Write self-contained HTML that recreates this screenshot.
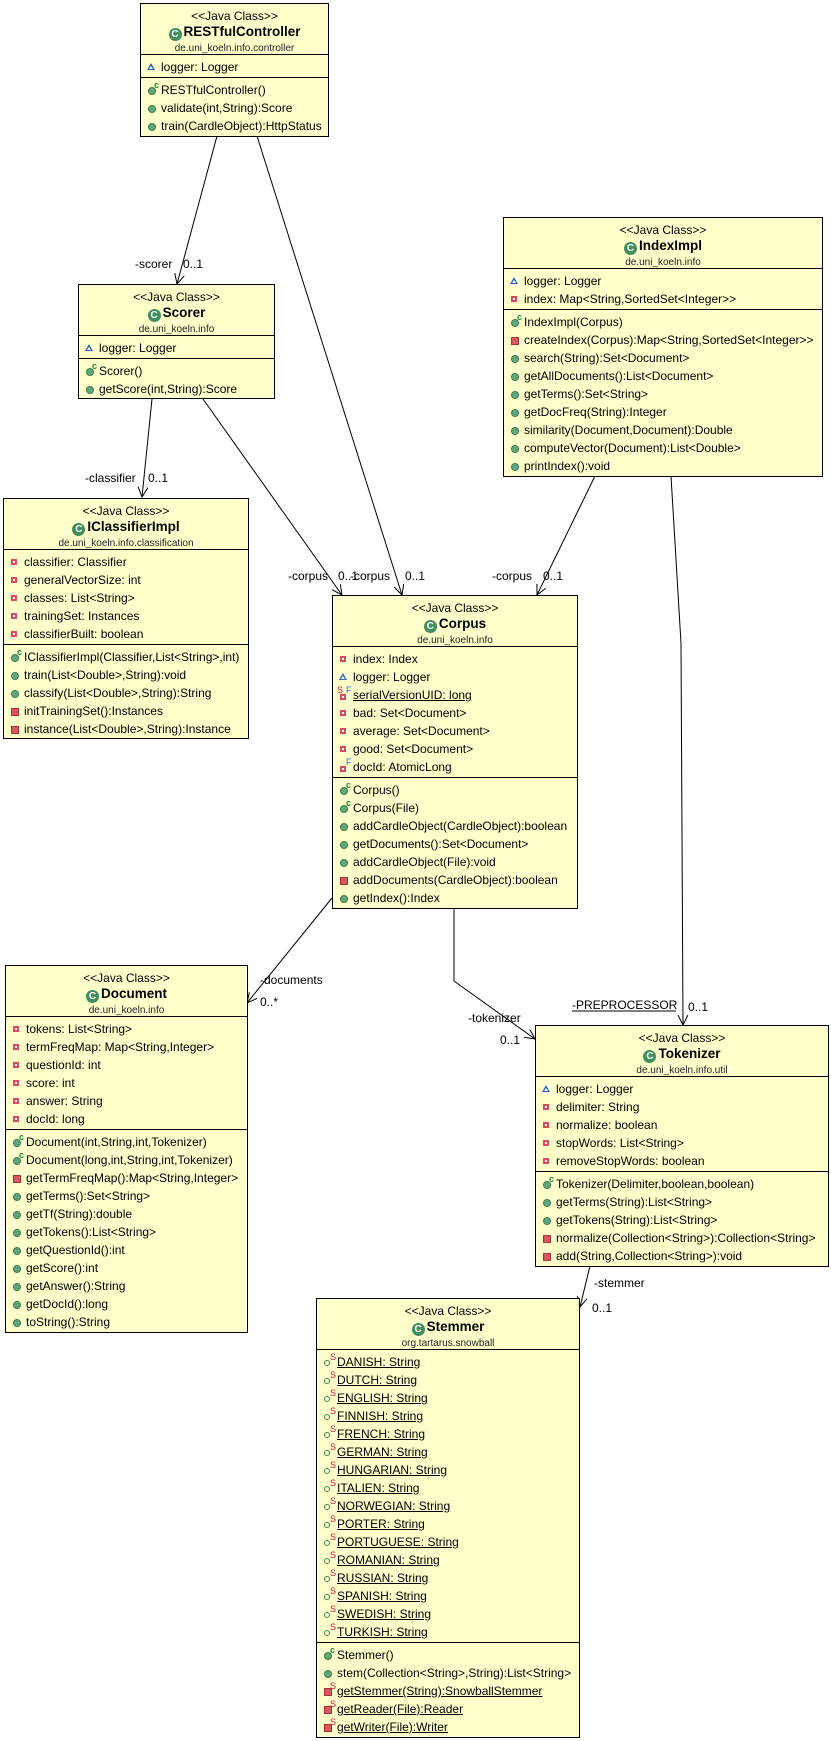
<!DOCTYPE html>
<html><head><meta charset="utf-8"><style>
body{margin:0;width:831px;height:1741px;background:#fff;position:relative;overflow:hidden;font-family:"Liberation Sans",Arial,sans-serif}
.box{position:absolute;background:#ffffcc;border:1px solid #000;box-sizing:border-box;font-size:12px;color:#000;overflow:hidden}
.hd{height:51px;border-bottom:1px solid #000;box-sizing:border-box;position:relative;text-align:center}
.hd div{position:absolute;left:0;right:0;white-space:nowrap}
.st{top:4px;line-height:16px;font-size:12px}
.nm{top:19px;line-height:18px;height:18px;font-size:13.5px;font-weight:bold}
.pk{top:38px;line-height:14px;font-size:10px;color:#222}
.G{display:inline-block;width:13px;height:13px;border-radius:50%;background:#3f8f5c;color:#fff;font-size:10px;line-height:13px;text-align:center;vertical-align:-1px;margin-right:2px;font-weight:bold}
.cp{padding:3px 0 1px 0;border-bottom:1px solid #000}
.cp.last{border-bottom:none}
.r{height:18px;line-height:18px;padding-left:20px;position:relative;white-space:nowrap}
.u{text-decoration:underline}
.ic{position:absolute;left:7px;top:5px;box-sizing:border-box}
.pub{width:8px;height:8px;border-radius:50%;background:#5fa878;border:1px solid #3d7d55;top:6px}
.pa{width:6px;height:6px;border:2px solid #d84a60;background:#fff;top:6px}
.pm{width:8px;height:8px;background:#d8575e;border:1px solid #a8323a;top:6px}
.pk2{left:6px;top:5px;width:0;height:0}
.pk2::before{content:"";position:absolute;left:0;top:0;border-left:4px solid transparent;border-right:4px solid transparent;border-bottom:7px solid #2a66c4}
.pk2::after{content:"";position:absolute;left:2px;top:3px;border-left:2px solid transparent;border-right:2px solid transparent;border-bottom:3px solid #fff}
.ring{width:6px;height:6px;border-radius:50%;border:1.5px solid #3d8d5a;top:7px}
.sup{position:absolute;font-size:9px;line-height:9px;top:0px;font-weight:bold}
.c{color:#1a8a3a;left:13px}
.s{color:#d0103a;left:13px;font-weight:normal}
.f{color:#2a66c4;left:13px;font-weight:normal}
svg{position:absolute;left:0;top:0}
svg text{font-family:"Liberation Sans",Arial,sans-serif;font-size:12px;fill:#000}
</style></head><body>

<svg width="831" height="1741">
<defs><marker id="a" markerWidth="12" markerHeight="12" refX="10" refY="5" orient="auto" markerUnits="userSpaceOnUse"><path d="M0,0 L10,5 L0,10" fill="none" stroke="#000" stroke-width="1"/></marker></defs>
<g stroke="#000" stroke-width="1" fill="none">
<line x1="217" y1="136" x2="177" y2="284" marker-end="url(#a)"/>
<line x1="257" y1="136" x2="402" y2="595" marker-end="url(#a)"/>
<line x1="152" y1="399" x2="142" y2="497" marker-end="url(#a)"/>
<line x1="203" y1="399" x2="342" y2="595" marker-end="url(#a)"/>
<line x1="595" y1="476" x2="537" y2="595" marker-end="url(#a)"/>
<polyline points="671,476 681,643 683,1025" marker-end="url(#a)"/>
<line x1="332" y1="898" x2="247" y2="1003" marker-end="url(#a)"/>
<polyline points="454,908 454,981 535,1039" marker-end="url(#a)"/>
<line x1="590" y1="1266" x2="580" y2="1307" marker-end="url(#a)"/>
</g>
<text x="135" y="268">-scorer</text><text x="183" y="268">0..1</text>
<text x="85" y="482">-classifier</text><text x="148" y="482">0..1</text>
<text x="288" y="580">-corpus</text><text x="338" y="580">0..1</text>
<text x="350" y="580">-corpus</text><text x="405" y="580">0..1</text>
<text x="492" y="580">-corpus</text><text x="543" y="580">0..1</text>
<text x="260" y="984">-documents</text><text x="260" y="1006">0..*</text>
<text x="468" y="1022">-tokenizer</text><text x="500" y="1044">0..1</text>
<text x="572" y="1009">-PREPROCESSOR</text>
<line x1="572" y1="1011" x2="676" y2="1011" stroke="#000"/>
<text x="688" y="1011">0..1</text>
<text x="594" y="1287">-stemmer</text><text x="592" y="1312">0..1</text>
</svg>

<!-- RESTfulController -->
<div class="box" style="left:140px;top:3px;width:189px;height:134px">
<div class="hd"><div class="st">&lt;&lt;Java Class&gt;&gt;</div><div class="nm"><span class="G">C</span>RESTfulController</div><div class="pk">de.uni_koeln.info.controller</div></div>
<div class="cp"><div class="r"><span class="ic pk2"></span>logger: Logger</div></div>
<div class="cp last"><div class="r"><span class="ic pub"></span><span class="sup c">c</span>RESTfulController()</div><div class="r"><span class="ic pub"></span>validate(int,String):Score</div><div class="r"><span class="ic pub"></span>train(CardleObject):HttpStatus</div></div>
</div>

<!-- Scorer -->
<div class="box" style="left:78px;top:284px;width:197px;height:115px">
<div class="hd"><div class="st">&lt;&lt;Java Class&gt;&gt;</div><div class="nm"><span class="G">C</span>Scorer</div><div class="pk">de.uni_koeln.info</div></div>
<div class="cp"><div class="r"><span class="ic pk2"></span>logger: Logger</div></div>
<div class="cp last"><div class="r"><span class="ic pub"></span><span class="sup c">c</span>Scorer()</div><div class="r"><span class="ic pub"></span>getScore(int,String):Score</div></div>
</div>

<!-- IClassifierImpl -->
<div class="box" style="left:3px;top:498px;width:246px;height:241px">
<div class="hd"><div class="st">&lt;&lt;Java Class&gt;&gt;</div><div class="nm"><span class="G">C</span>IClassifierImpl</div><div class="pk">de.uni_koeln.info.classification</div></div>
<div class="cp"><div class="r"><span class="ic pa"></span>classifier: Classifier</div><div class="r"><span class="ic pa"></span>generalVectorSize: int</div><div class="r"><span class="ic pa"></span>classes: List&lt;String&gt;</div><div class="r"><span class="ic pa"></span>trainingSet: Instances</div><div class="r"><span class="ic pa"></span>classifierBuilt: boolean</div></div>
<div class="cp last"><div class="r"><span class="ic pub"></span><span class="sup c">c</span>IClassifierImpl(Classifier,List&lt;String&gt;,int)</div><div class="r"><span class="ic pub"></span>train(List&lt;Double&gt;,String):void</div><div class="r"><span class="ic pub"></span>classify(List&lt;Double&gt;,String):String</div><div class="r"><span class="ic pm"></span>initTrainingSet():Instances</div><div class="r"><span class="ic pm"></span>instance(List&lt;Double&gt;,String):Instance</div></div>
</div>

<!-- IndexImpl -->
<div class="box" style="left:503px;top:217px;width:320px;height:260px">
<div class="hd"><div class="st">&lt;&lt;Java Class&gt;&gt;</div><div class="nm"><span class="G">C</span>IndexImpl</div><div class="pk">de.uni_koeln.info</div></div>
<div class="cp"><div class="r"><span class="ic pk2"></span>logger: Logger</div><div class="r"><span class="ic pa"></span>index: Map&lt;String,SortedSet&lt;Integer&gt;&gt;</div></div>
<div class="cp last"><div class="r"><span class="ic pub"></span><span class="sup c">c</span>IndexImpl(Corpus)</div><div class="r"><span class="ic pm"></span>createIndex(Corpus):Map&lt;String,SortedSet&lt;Integer&gt;&gt;</div><div class="r"><span class="ic pub"></span>search(String):Set&lt;Document&gt;</div><div class="r"><span class="ic pub"></span>getAllDocuments():List&lt;Document&gt;</div><div class="r"><span class="ic pub"></span>getTerms():Set&lt;String&gt;</div><div class="r"><span class="ic pub"></span>getDocFreq(String):Integer</div><div class="r"><span class="ic pub"></span>similarity(Document,Document):Double</div><div class="r"><span class="ic pub"></span>computeVector(Document):List&lt;Double&gt;</div><div class="r"><span class="ic pub"></span>printIndex():void</div></div>
</div>

<!-- Corpus -->
<div class="box" style="left:332px;top:595px;width:246px;height:314px">
<div class="hd"><div class="st">&lt;&lt;Java Class&gt;&gt;</div><div class="nm"><span class="G">C</span>Corpus</div><div class="pk">de.uni_koeln.info</div></div>
<div class="cp"><div class="r"><span class="ic pa"></span>index: Index</div><div class="r"><span class="ic pk2"></span>logger: Logger</div><div class="r"><span class="sup s" style="left:4px">S</span><span class="ic pa" style="top:8px"></span><span class="sup f">F</span><span class="u">serialVersionUID: long</span></div><div class="r"><span class="ic pa"></span>bad: Set&lt;Document&gt;</div><div class="r"><span class="ic pa"></span>average: Set&lt;Document&gt;</div><div class="r"><span class="ic pa"></span>good: Set&lt;Document&gt;</div><div class="r"><span class="ic pa" style="top:8px"></span><span class="sup f">F</span>docId: AtomicLong</div></div>
<div class="cp last"><div class="r"><span class="ic pub"></span><span class="sup c">c</span>Corpus()</div><div class="r"><span class="ic pub"></span><span class="sup c">c</span>Corpus(File)</div><div class="r"><span class="ic pub"></span>addCardleObject(CardleObject):boolean</div><div class="r"><span class="ic pub"></span>getDocuments():Set&lt;Document&gt;</div><div class="r"><span class="ic pub"></span>addCardleObject(File):void</div><div class="r"><span class="ic pm"></span>addDocuments(CardleObject):boolean</div><div class="r"><span class="ic pub"></span>getIndex():Index</div></div>
</div>

<!-- Document -->
<div class="box" style="left:5px;top:965px;width:243px;height:368px">
<div class="hd"><div class="st">&lt;&lt;Java Class&gt;&gt;</div><div class="nm"><span class="G">C</span>Document</div><div class="pk">de.uni_koeln.info</div></div>
<div class="cp"><div class="r"><span class="ic pa"></span>tokens: List&lt;String&gt;</div><div class="r"><span class="ic pa"></span>termFreqMap: Map&lt;String,Integer&gt;</div><div class="r"><span class="ic pa"></span>questionId: int</div><div class="r"><span class="ic pa"></span>score: int</div><div class="r"><span class="ic pa"></span>answer: String</div><div class="r"><span class="ic pa"></span>docId: long</div></div>
<div class="cp last"><div class="r"><span class="ic pub"></span><span class="sup c">c</span>Document(int,String,int,Tokenizer)</div><div class="r"><span class="ic pub"></span><span class="sup c">c</span>Document(long,int,String,int,Tokenizer)</div><div class="r"><span class="ic pm"></span>getTermFreqMap():Map&lt;String,Integer&gt;</div><div class="r"><span class="ic pub"></span>getTerms():Set&lt;String&gt;</div><div class="r"><span class="ic pub"></span>getTf(String):double</div><div class="r"><span class="ic pub"></span>getTokens():List&lt;String&gt;</div><div class="r"><span class="ic pub"></span>getQuestionId():int</div><div class="r"><span class="ic pub"></span>getScore():int</div><div class="r"><span class="ic pub"></span>getAnswer():String</div><div class="r"><span class="ic pub"></span>getDocId():long</div><div class="r"><span class="ic pub"></span>toString():String</div></div>
</div>

<!-- Tokenizer -->
<div class="box" style="left:535px;top:1025px;width:294px;height:242px">
<div class="hd"><div class="st">&lt;&lt;Java Class&gt;&gt;</div><div class="nm"><span class="G">C</span>Tokenizer</div><div class="pk">de.uni_koeln.info.util</div></div>
<div class="cp"><div class="r"><span class="ic pk2"></span>logger: Logger</div><div class="r"><span class="ic pa"></span>delimiter: String</div><div class="r"><span class="ic pa"></span>normalize: boolean</div><div class="r"><span class="ic pa"></span>stopWords: List&lt;String&gt;</div><div class="r"><span class="ic pa"></span>removeStopWords: boolean</div></div>
<div class="cp last"><div class="r"><span class="ic pub"></span><span class="sup c">c</span>Tokenizer(Delimiter,boolean,boolean)</div><div class="r"><span class="ic pub"></span>getTerms(String):List&lt;String&gt;</div><div class="r"><span class="ic pub"></span>getTokens(String):List&lt;String&gt;</div><div class="r"><span class="ic pm"></span>normalize(Collection&lt;String&gt;):Collection&lt;String&gt;</div><div class="r"><span class="ic pm"></span>add(String,Collection&lt;String&gt;):void</div></div>
</div>

<!-- Stemmer -->
<div class="box" style="left:316px;top:1298px;width:264px;height:440px">
<div class="hd"><div class="st">&lt;&lt;Java Class&gt;&gt;</div><div class="nm"><span class="G">C</span>Stemmer</div><div class="pk">org.tartarus.snowball</div></div>
<div class="cp">
<div class="r"><span class="ic ring"></span><span class="sup s">S</span><span class="u">DANISH: String</span></div>
<div class="r"><span class="ic ring"></span><span class="sup s">S</span><span class="u">DUTCH: String</span></div>
<div class="r"><span class="ic ring"></span><span class="sup s">S</span><span class="u">ENGLISH: String</span></div>
<div class="r"><span class="ic ring"></span><span class="sup s">S</span><span class="u">FINNISH: String</span></div>
<div class="r"><span class="ic ring"></span><span class="sup s">S</span><span class="u">FRENCH: String</span></div>
<div class="r"><span class="ic ring"></span><span class="sup s">S</span><span class="u">GERMAN: String</span></div>
<div class="r"><span class="ic ring"></span><span class="sup s">S</span><span class="u">HUNGARIAN: String</span></div>
<div class="r"><span class="ic ring"></span><span class="sup s">S</span><span class="u">ITALIEN: String</span></div>
<div class="r"><span class="ic ring"></span><span class="sup s">S</span><span class="u">NORWEGIAN: String</span></div>
<div class="r"><span class="ic ring"></span><span class="sup s">S</span><span class="u">PORTER: String</span></div>
<div class="r"><span class="ic ring"></span><span class="sup s">S</span><span class="u">PORTUGUESE: String</span></div>
<div class="r"><span class="ic ring"></span><span class="sup s">S</span><span class="u">ROMANIAN: String</span></div>
<div class="r"><span class="ic ring"></span><span class="sup s">S</span><span class="u">RUSSIAN: String</span></div>
<div class="r"><span class="ic ring"></span><span class="sup s">S</span><span class="u">SPANISH: String</span></div>
<div class="r"><span class="ic ring"></span><span class="sup s">S</span><span class="u">SWEDISH: String</span></div>
<div class="r"><span class="ic ring"></span><span class="sup s">S</span><span class="u">TURKISH: String</span></div>
</div>
<div class="cp last">
<div class="r"><span class="ic pub"></span><span class="sup c">c</span>Stemmer()</div>
<div class="r"><span class="ic pub"></span>stem(Collection&lt;String&gt;,String):List&lt;String&gt;</div>
<div class="r"><span class="ic pm"></span><span class="sup s">S</span><span class="u">getStemmer(String):SnowballStemmer</span></div>
<div class="r"><span class="ic pm"></span><span class="sup s">S</span><span class="u">getReader(File):Reader</span></div>
<div class="r"><span class="ic pm"></span><span class="sup s">S</span><span class="u">getWriter(File):Writer</span></div>
</div>
</div>

</body></html>
